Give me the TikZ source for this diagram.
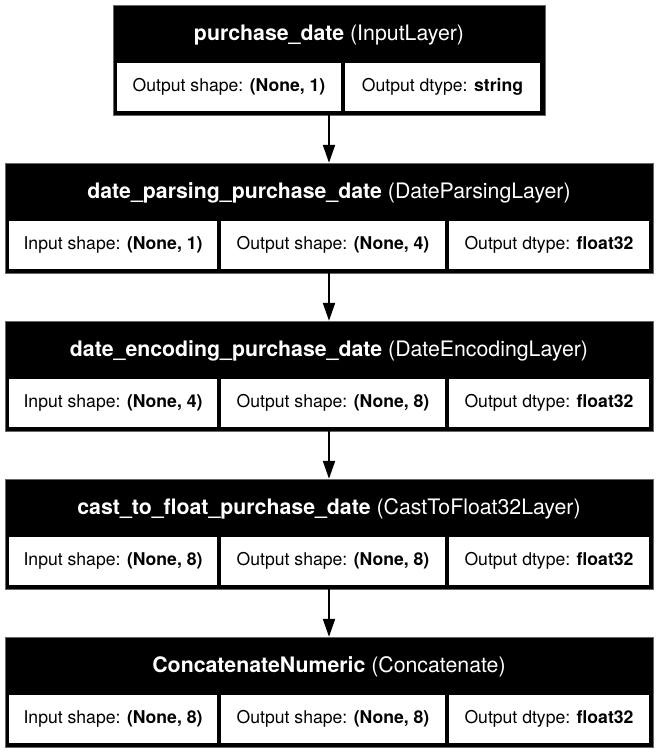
\documentclass[tikz,border=0pt]{standalone}
\usepackage{fontspec}
\setmainfont{TeX Gyre Heros}
\usetikzlibrary{arrows.meta}
\begin{document}
\begin{tikzpicture}[x=1pt,y=-1pt,
  layer/.style={draw=black!60,fill=black,minimum height=110pt,inner sep=0pt},
  title/.style={text=white,font=\fontsize{21.3}{24}\selectfont},
  cell/.style={fill=white,minimum height=48pt,inner sep=0pt,font=\fontsize{17.6}{20}\selectfont},
  flow/.style={line width=2pt,-{Triangle[length=18pt,width=12pt]}}]
\useasboundingbox (0,0) rectangle (658,753);
% input layer
\node[layer,minimum width=432pt] (l1) at (329,60) {};
\node[title] (l1t) at (329,35) {\textbf{purchase\_date} (InputLayer)};
\node[cell,minimum width=224pt] (l1a) at (229,87) {Output shape: \textbf{(None, 1)}};
\node[cell,minimum width=195pt] (l1b) at (442.5,87) {Output dtype: \textbf{string}};
% date parsing
\node[layer,minimum width=648pt] (l2) at (329,218) {};
\node[title] (l2t) at (329,193) {\textbf{date\_parsing\_purchase\_date} (DateParsingLayer)};
\node[cell,minimum width=208pt] (l2a) at (113,245) {Input shape: \textbf{(None, 1)}};
\node[cell,minimum width=224pt] (l2b) at (333,245) {Output shape: \textbf{(None, 4)}};
\node[cell,minimum width=200pt] (l2c) at (549,245) {Output dtype: \textbf{float32}};
% date encoding
\node[layer,minimum width=648pt] (l3) at (329,376) {};
\node[title] (l3t) at (329,351) {\textbf{date\_encoding\_purchase\_date} (DateEncodingLayer)};
\node[cell,minimum width=208pt] (l3a) at (113,403) {Input shape: \textbf{(None, 4)}};
\node[cell,minimum width=224pt] (l3b) at (333,403) {Output shape: \textbf{(None, 8)}};
\node[cell,minimum width=200pt] (l3c) at (549,403) {Output dtype: \textbf{float32}};
% cast to float
\node[layer,minimum width=648pt] (l4) at (329,534) {};
\node[title] (l4t) at (329,509) {\textbf{cast\_to\_float\_purchase\_date} (CastToFloat32Layer)};
\node[cell,minimum width=208pt] (l4a) at (113,561) {Input shape: \textbf{(None, 8)}};
\node[cell,minimum width=224pt] (l4b) at (333,561) {Output shape: \textbf{(None, 8)}};
\node[cell,minimum width=200pt] (l4c) at (549,561) {Output dtype: \textbf{float32}};
% concatenate
\node[layer,minimum width=648pt] (l5) at (329,692) {};
\node[title] (l5t) at (329,667) {\textbf{ConcatenateNumeric} (Concatenate)};
\node[cell,minimum width=208pt] (l5a) at (113,719) {Input shape: \textbf{(None, 8)}};
\node[cell,minimum width=224pt] (l5b) at (333,719) {Output shape: \textbf{(None, 8)}};
\node[cell,minimum width=200pt] (l5c) at (549,719) {Output dtype: \textbf{float32}};
\foreach \a/\b in {l1/l2,l2/l3,l3/l4,l4/l5}
\draw[flow] (\a) -- (\b);
\end{tikzpicture}
\end{document}
